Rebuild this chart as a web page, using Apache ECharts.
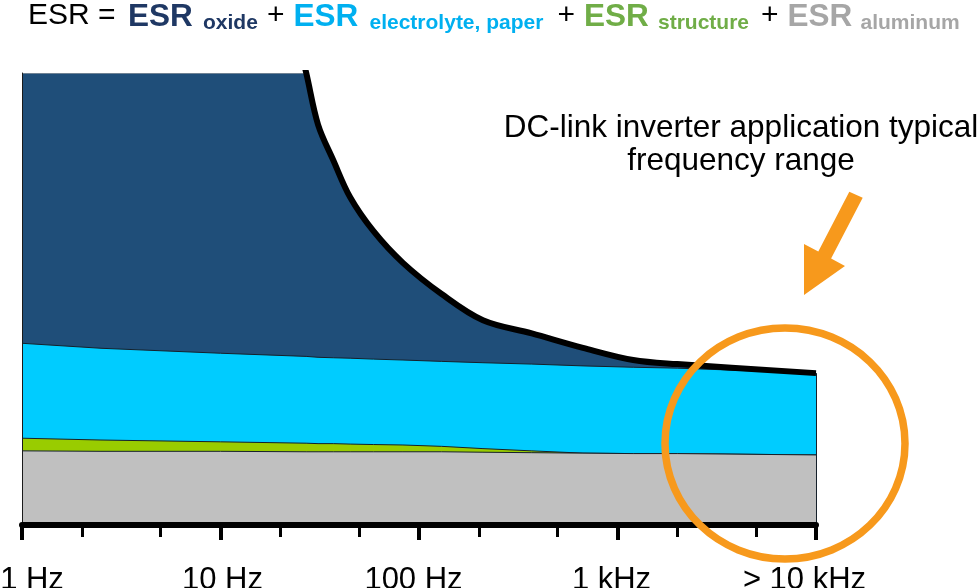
<!DOCTYPE html>
<html><head><meta charset="utf-8">
<script src="https://cdn.jsdelivr.net/npm/echarts@6/dist/echarts.min.js"></script>
<style>html,body{margin:0;padding:0;background:#fff}#c{width:980px;height:588px}</style>
</head><body><div id="c"></div>
<script>
// Frequency samples (Hz) and ESR contributions (relative units, 0-100 visible range)
const freqHz         = [1,    2.5,  10,   27,   31,   37,   45,   59,   83,   130,  210,  370,  670,  1200, 2000, 10000];
const esrAluminum    = [16.4, 16.3, 16.3, 16.2, 16.2, 16.2, 16.2, 16.2, 16.2, 16.2, 16.1, 16.0, 15.9, 15.8, 15.8, 15.5];
const esrStructure   = [2.8,  2.5,  2.1,  1.9,  1.8,  1.8,  1.7,  1.6,  1.5,  1.2,  0.8,  0.4,  0,    0,    0,    0];
const esrElectrolyte = [21.0, 20.3, 19.6, 19.2, 19.1, 19.0, 19.0, 18.9, 18.8, 18.8, 19.0, 19.2, 19.3, 19.1, 18.9, 18.1];
const esrOxide       = [400,  250,  140,  62.8, 51.5, 43.7, 35.6, 28.3, 21.5, 14.9, 9.4,  6.8,  4.0,  1.6,  0.9,  0];
const yMax = 100;

const tickLabels  = ['1 Hz', '10 Hz', '100 Hz', '1 kHz', '> 10 kHz'];
const majorTickHz = [1, 10, 100, 1000, 10000];
const minorTickHz = [2, 5, 20, 50, 200, 500, 2000, 5000];

const FONT = '"Liberation Sans", Arial, Helvetica, sans-serif';
const ORANGE = '#F7991C';

// cumulative tops of the layers (bottom to top)
const cum = (...layers) => freqHz.map((_, i) => layers.reduce((s, a) => s + a[i], 0));
const topAluminum    = cum(esrAluminum);
const topStructure   = cum(esrAluminum, esrStructure);
const topElectrolyte = cum(esrAluminum, esrStructure, esrElectrolyte);
const topTotal       = cum(esrAluminum, esrStructure, esrElectrolyte, esrOxide);

const toXY = arr => freqHz.map((f, i) => [Math.log10(f), arr[i]]);
const edge = { color: '#15202b', width: 1 };
const last = freqHz.length - 1;
const firstInRange = topTotal.findIndex(v => v <= yMax + 0.5);

function area(name, arr, color, z, extra) {
  return Object.assign({
    name, type: 'line', data: toXY(arr), symbol: 'none', z,
    lineStyle: edge, areaStyle: { color, opacity: 1, origin: 'start' }, itemStyle: { color },
    silent: true, clip: true
  }, extra || {});
}

const lbl = pad => ({ fontSize: 31, fontFamily: FONT, color: '#000', padding: pad });
const labelRich = {
  l0: lbl([0, 0, 0, 20]),
  l1: lbl([0, 0, 0, 4]),
  l2: lbl([0, 11, 0, 0]),
  l3: lbl([0, 12, 0, 0]),
  l4: lbl([0, 23, 0, 0])
};

const mainS = (color, bold, width) => ({ fontSize: bold ? 31.5 : 30, fontFamily: FONT, fontWeight: bold ? 'bold' : 'normal', color, lineHeight: 26, verticalAlign: 'top', width });
const subS = (color, width) => ({ fontSize: 21, fontFamily: FONT, fontWeight: 'bold', color, lineHeight: 33, verticalAlign: 'bottom', width });

const smoothOpts = { smooth: 0.35 };

const chart = echarts.init(document.getElementById('c'), null, { renderer: 'canvas' });
chart.setOption({
  animation: false,
  backgroundColor: '#fff',
  title: {
    left: 28, top: 1, padding: 0,
    text: '{k|ESR =}{a|ESR}{as|oxide}{p|+}{b|ESR}{bs|electrolyte, paper}{p|+}{c|ESR}{cs|structure}{p|+}{d|ESR}{ds|aluminum}',
    textStyle: {
      rich: {
        k: mainS('#000', false, 100),
        p: mainS('#000', false, 26.5),
        a: mainS('#1F3864', true, 75),
        as: subS('#1F3864', 64),
        b: mainS('#00B0F0', true, 76),
        bs: subS('#00B0F0', 188),
        c: mainS('#70AD47', true, 74),
        cs: subS('#70AD47', 103),
        d: mainS('#A6A6A6', true, 73),
        ds: subS('#A6A6A6')
      }
    }
  },
  grid: { left: 22, right: 164, top: 73, bottom: 63, containLabel: false, outerBoundsMode: 'none' },
  xAxis: [
    {
      type: 'value', min: 0, max: 4, interval: 1, position: 'bottom', z: 10,
      axisLine: { show: true, onZero: false, lineStyle: { color: '#000', width: 6 } },
      axisTick: { show: true, length: 15, lineStyle: { color: '#000', width: 4 } },
      axisLabel: {
        margin: 40, fontSize: 31, fontFamily: FONT, color: '#000', hideOverlap: false,
        formatter: v => { const i = majorTickHz.indexOf(Math.round(Math.pow(10, v))); return i < 0 ? '' : '{l' + i + '|' + tickLabels[i] + '}'; },
        rich: labelRich
      },
      splitLine: { show: false }
    },
    {
      type: 'value', min: 0, max: 4, position: 'bottom', z: 10,
      axisLine: { show: false },
      axisLabel: { show: false },
      splitLine: { show: false },
      axisTick: { show: true, length: 12, lineStyle: { color: '#000', width: 3 }, customValues: minorTickHz.map(f => Math.log10(f)) }
    }
  ],
  yAxis: {
    type: 'value', min: 0, max: yMax, z: 10,
    axisLine: { show: true, lineStyle: { color: '#1a1a1a', width: 1 } },
    axisTick: { show: false }, axisLabel: { show: false }, splitLine: { show: false }
  },
  series: [
    area('ESR oxide', topTotal, '#1F4E79', 2, Object.assign({
      lineStyle: { width: 0, opacity: 0 },
      markLine: {
        silent: true, symbol: 'none', label: { show: false },
        lineStyle: { color: '#6f8294', width: 1, type: 'solid' },
        data: [[{ coord: [0, yMax] }, { coord: [Math.log10(freqHz[firstInRange]), yMax] }]]
      }
    }, smoothOpts)),
    area('ESR electrolyte, paper', topElectrolyte, '#00CCFF', 3),
    area('ESR structure', topStructure, '#99CC00', 4),
    area('ESR aluminum', topAluminum, '#C0C0C0', 5, {
      markLine: {
        silent: true, symbol: 'none', label: { show: false },
        lineStyle: { color: '#15202b', width: 1, type: 'solid' },
        data: [[{ coord: [Math.log10(freqHz[last]), 0] }, { coord: [Math.log10(freqHz[last]), topTotal[last]] }]]
      }
    }),
    Object.assign({
      name: 'ESR total', type: 'line', data: toXY(topTotal), symbol: 'none', z: 8, silent: true, clip: true,
      lineStyle: { color: '#000', width: 6, join: 'round' }
    }, smoothOpts)
  ],
  graphic: [
    {
      type: 'text', z: 100,
      style: {
        text: 'DC-link inverter application typical\nfrequency range',
        x: 741, y: 112, align: 'center', textAlign: 'center', verticalAlign: 'top', textVerticalAlign: 'top',
        font: '31.5px ' + FONT, lineHeight: 33, fill: '#000'
      }
    },
    {
      type: 'polygon', z: 100,
      shape: { points: [[849.3, 191.7], [862.7, 197.7], [831.1, 258.6], [845, 266], [804, 295], [804, 244], [818.3, 251.6]] },
      style: { fill: ORANGE }
    },
    {
      type: 'ellipse', z: 100,
      shape: { cx: 785, cy: 443.5, rx: 120, ry: 115.5 },
      style: { fill: 'none', stroke: ORANGE, lineWidth: 7.5 }
    }
  ]
});
</script>
</body></html>
